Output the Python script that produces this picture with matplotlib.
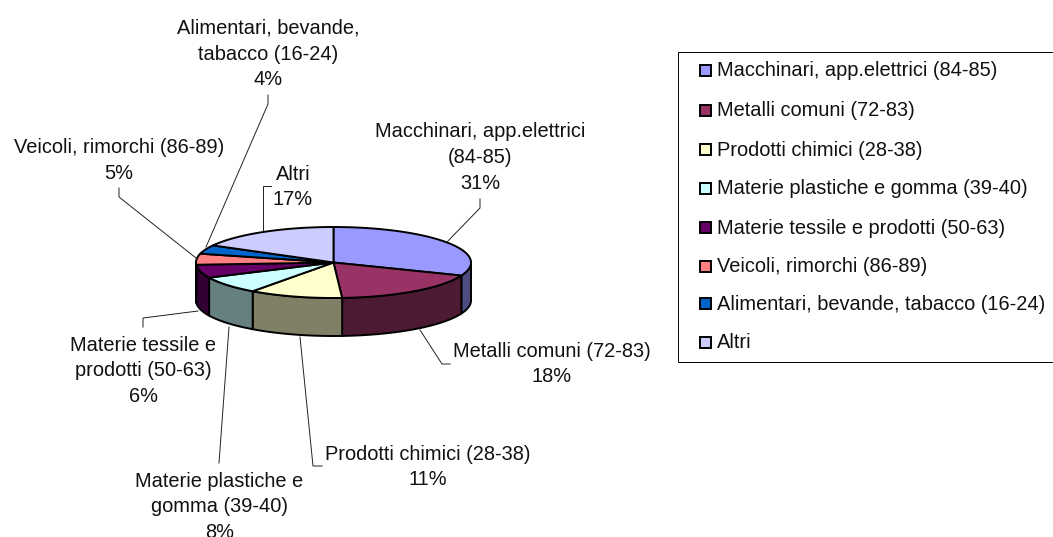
#!/usr/bin/env python3
# -*- coding:utf-8 -*-
import numpy as np
from matplotlib import pyplot as plt
from matplotlib.patches import Polygon, Rectangle

names = ["Macchinari, app.elettrici (84-85)", "Metalli comuni (72-83)", "Prodotti chimici (28-38)",
         "Materie plastiche e gomma (39-40)", "Materie tessile e prodotti (50-63)", "Veicoli, rimorchi (86-89)",
         "Alimentari, bevande, tabacco (16-24)", "Altri"]
labels = ["Macchinari, app.elettrici\n(84-85)", "Metalli comuni (72-83)", "Prodotti chimici (28-38)",
          "Materie plastiche e\ngomma (39-40)", "Materie tessile e\nprodotti (50-63)", "Veicoli, rimorchi (86-89)",
          "Alimentari, bevande,\ntabacco (16-24)", "Altri"]
values = [31, 18, 11, 8, 6, 5, 4, 17]
colors = ["#9999FF", "#993366", "#FFFFCC", "#CCFFFF", "#660066", "#FF8080", "#0066CC", "#CCCCFF"]
sides = ["#4D4D80", "#4D1A33", "#808066", "#668080", "#330033", "#804040", "#003366", "#666680"]

cx, cy, rx, ry, depth = 333.5, 262.5, 137.5, 35.5, 38
# text centre, and leader line points for each slice
label_pos = [(480, 157.5), (552, 364), (428, 467), (219.5, 507), (143, 371), (119, 160.5), (268, 54), (293, 187)]
leaders = [[(480, 199), (480, 208), (447, 242)], [(420, 330), (442, 364), (450, 364)],
           [(300, 337), (313, 466), (322, 466)], [(229, 327), (219, 463)],
           [(143, 327), (143, 318), (198, 311)], [(119, 188), (119, 197), (196, 258)],
           [(268, 95), (268, 104), (206, 247)], [(263, 230), (263, 186), (271, 186)]]
legend_y = [70, 110, 149, 188, 227, 266, 303, 342]

plt.rcParams["font.family"] = ["Liberation Sans", "DejaVu Sans"]
fig = plt.figure(figsize=(10.53, 5.37), dpi=100)
ax = fig.add_axes([0, 0, 1, 1])
ax.set_xlim(0, 1053)
ax.set_ylim(537, 0)
ax.axis("off")


def rim(a0, a1):
    t = np.radians(np.linspace(a0, a1, 60))
    return cx + rx * np.sin(t), cy - ry * np.cos(t)


edges = np.cumsum([0] + values) / sum(values) * 360

# side wall, only the front half (90-270 deg) shows
for i in range(len(values)):
    a0, a1 = max(edges[i], 90), min(edges[i + 1], 270)
    if a1 <= a0:
        continue
    x, y = rim(a0, a1)
    pts = np.r_[np.c_[x, y], np.c_[x, y + depth][::-1]]
    ax.add_patch(Polygon(pts, closed=True, fc=sides[i], ec="black", lw=1.4, joinstyle="round"))

# top face
for i in range(len(values)):
    x, y = rim(edges[i], edges[i + 1])
    pts = np.r_[[[cx, cy]], np.c_[x, y]]
    ax.add_patch(Polygon(pts, closed=True, fc=colors[i], ec="black", lw=1.4, joinstyle="round"))

for i in range(len(values)):
    ax.plot(*zip(*leaders[i]), color="#222222", lw=0.7, solid_joinstyle="miter")
    ax.text(label_pos[i][0], label_pos[i][1], "%s\n%d%%" % (labels[i], values[i]), ha="center", va="center",
            fontsize=14.4, linespacing=1.45, color="#111111", clip_on=False)

# legend box runs off the right edge
ax.add_patch(Rectangle((677.5, 51.5), 400, 310, fc="white", ec="black", lw=0.7))
for i in range(len(names)):
    ax.add_patch(Rectangle((699.5, legend_y[i] - 5.5), 11, 11, fc=colors[i], ec="black", lw=1.4))
    ax.text(717, legend_y[i] + 1, names[i], ha="left", va="center", fontsize=14.4, color="#111111")

fig.savefig("out.png", dpi=100)
